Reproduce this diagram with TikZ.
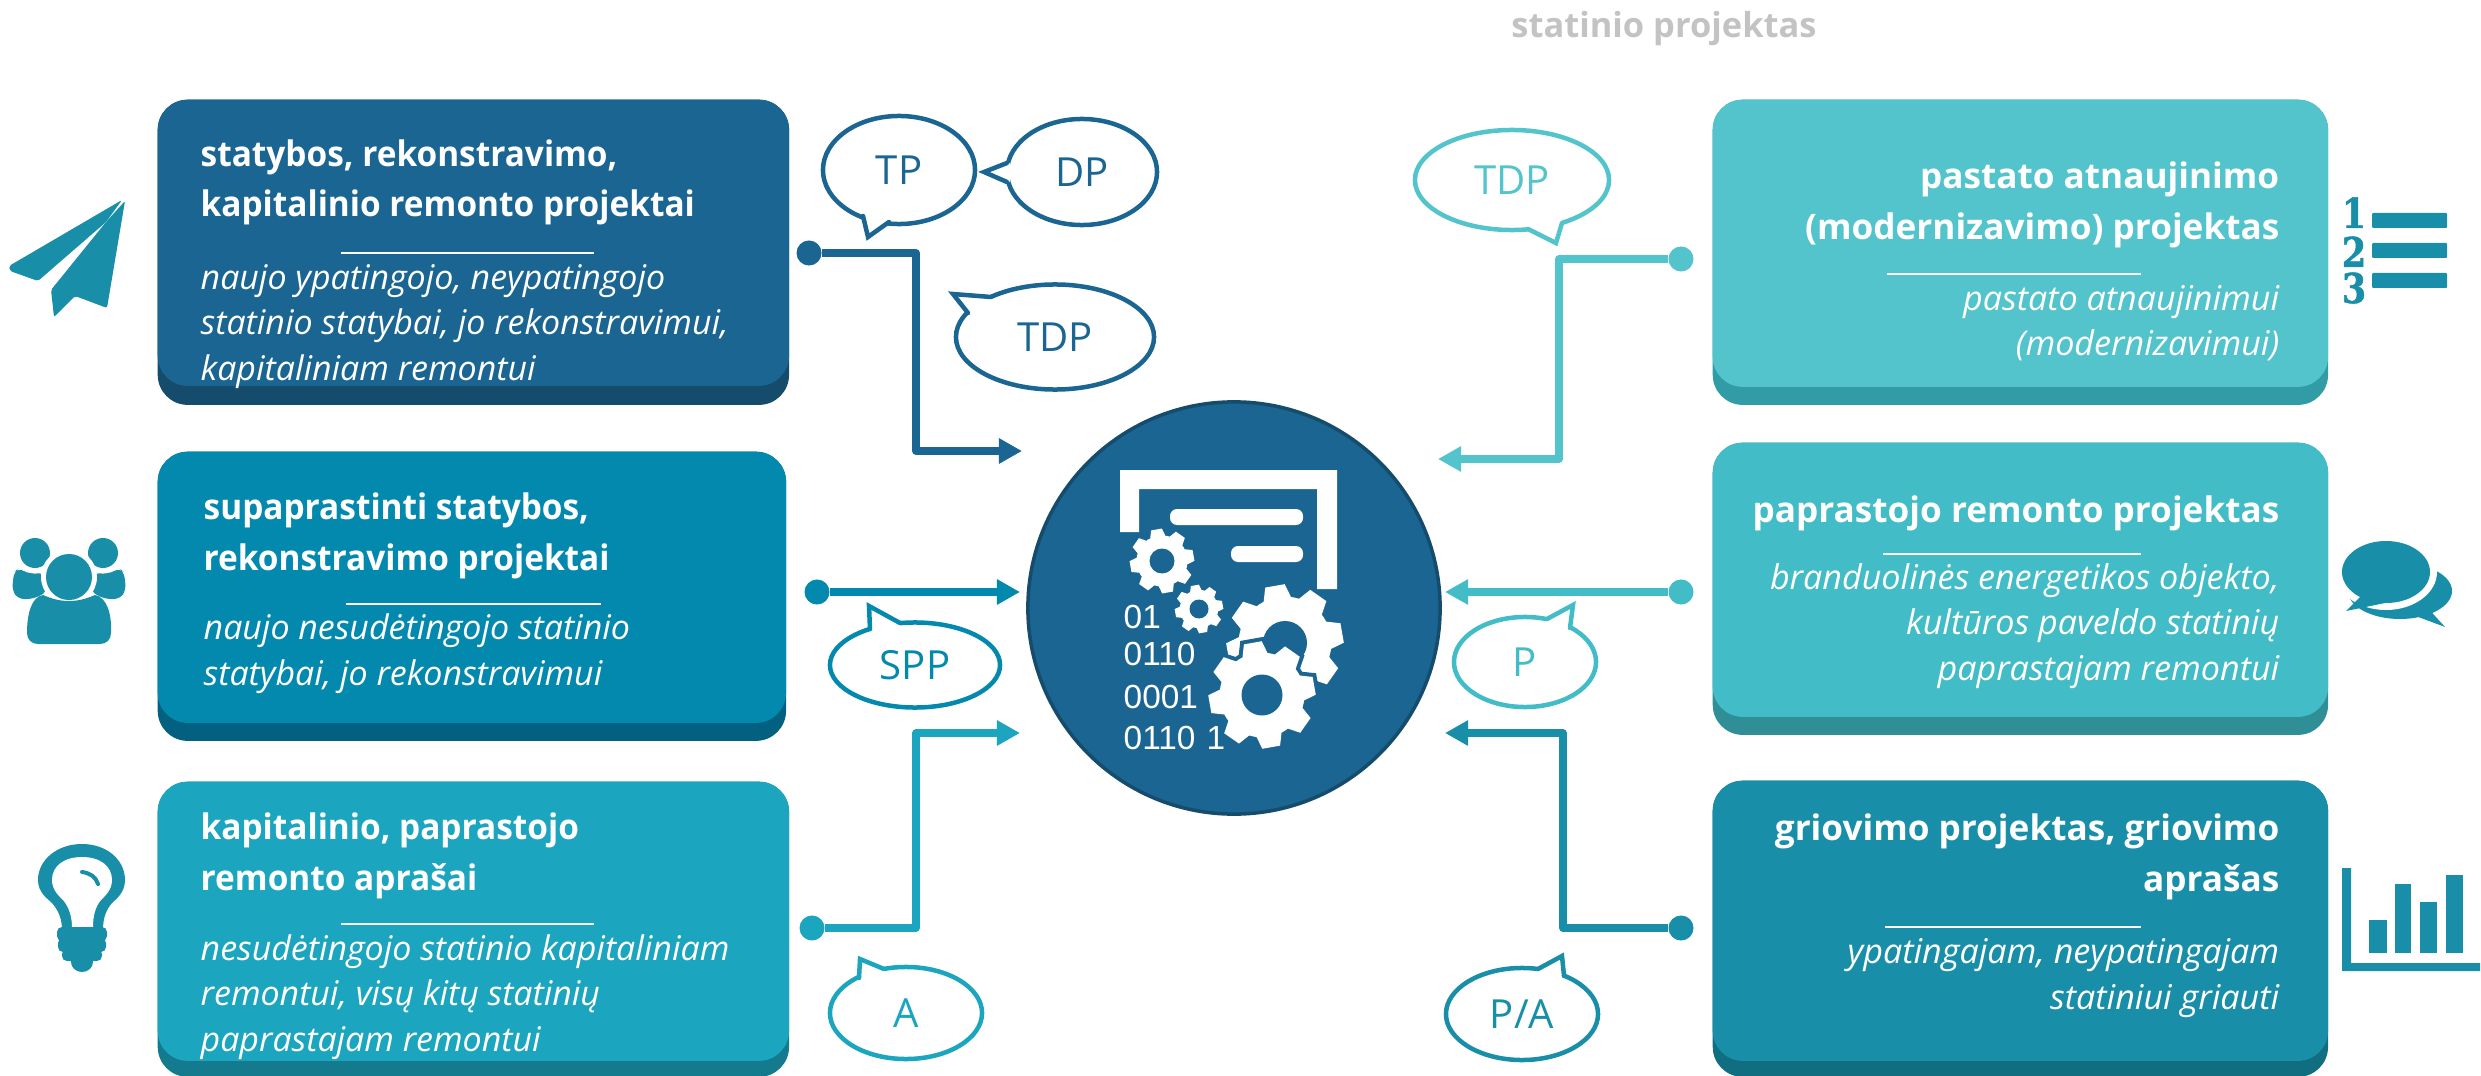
\documentclass[tikz,border=0pt]{standalone}
\usepackage{fontspec}
\setmainfont{Open Sans}
\newfontfamily\leftfont[FakeStretch=0.95]{Open Sans}
\newfontfamily\digitfont{Liberation Sans}
\newfontfamily\numfont[FakeStretch=0.85,BoldFeatures={FakeBold=1.2}]{DejaVu Serif}
\usetikzlibrary{positioning,calc,arrows.meta,shapes.geometric}
\definecolor{navy}{RGB}{26,101,145}
\definecolor{navyshade}{RGB}{21,75,107}
\definecolor{ocean}{RGB}{4,137,174}
\definecolor{oceanshade}{RGB}{3,96,128}
\definecolor{lagoon}{RGB}{28,165,191}
\definecolor{lagoonshade}{RGB}{20,122,141}
\definecolor{aqua}{RGB}{83,195,204}
\definecolor{aquashade}{RGB}{49,155,166}
\definecolor{mint}{RGB}{66,188,198}
\definecolor{mintshade}{RGB}{47,142,150}
\definecolor{teal2}{RGB}{24,142,168}
\definecolor{teal2shade}{RGB}{17,109,128}
\definecolor{titlegray}{RGB}{195,195,195}
\tikzset{
	panel/.style={rectangle,rounded corners=.3cm,inner sep=0pt,anchor=north west},
	headtext/.style={text=white,font=\bfseries\fontsize{10}{14.4}\selectfont,inner sep=0pt},
	subtext/.style={text=white,font=\itshape\fontsize{9.7}{12.8}\selectfont,inner sep=0pt},
	headleft/.style={headtext,font=\leftfont\bfseries\fontsize{10}{14.4}\selectfont},
	subleft/.style={subtext,font=\itshape\fontsize{9.65}{12.8}\selectfont},
	hrule/.style={white,line width=.15mm},
	bubble/.style={ellipse,draw=#1,text=#1,fill=white,line width=.45mm,inner sep=0pt,font=\fontsize{11.4}{13}\selectfont},
	dotend/.style={circle,fill=#1,minimum size=.25cm,inner sep=0pt},
	flow/.style={draw=#1,line width=.73mm,line join=round,-{Triangle[length=.23cm,width=.24cm,fill=#1]}},
	binary/.style={text=white,inner sep=0pt,anchor=base west,font=\digitfont\fontsize{9.5}{12}\selectfont},
	listnum/.style={text=teal2,inner sep=0pt,anchor=base,font=\numfont\bfseries\fontsize{11.7}{12}\selectfont},
}
\newcommand\bubbletail[4]{%
	\fill[white] #2 -- #3 -- #4 -- cycle;
	\draw[white,line width=.6mm] #2 -- #4;
	\draw[#1,line width=.45mm,line cap=round] #2 -- #3 -- #4;
}
\newcommand\gearicon[4][]{%
	\begin{scope}[shift={#2}]
		\foreach \a in {10,55,...,325}
		\fill[white,#1,rotate=\a] (.76*#3,-.24*#3) -- (#3,-.17*#3) -- (#3,.17*#3) -- (.76*#3,.24*#3) -- cycle;
		\fill[white,#1] (0,0) circle (.8*#3);
		\fill[navy] (0,0) circle (#4);
	\end{scope}
}
\begin{document}
\begin{tikzpicture}[x=.01cm,y=-.01cm]
	\useasboundingbox (0,0) rectangle (2481,1076);
	\node[text=titlegray,font=\bfseries\fontsize{9.8}{12}\selectfont,inner sep=0pt] (title) at (1664,29) {statinio projektas};

	% left panels
	\node[panel,fill=navyshade,minimum width=6.31cm,minimum height=3.05cm] (statShade) at (157,99) {};
	\node[panel,fill=navy,minimum width=6.31cm,minimum height=2.86cm] (stat) at (157,99) {};
	\node[panel,fill=oceanshade,minimum width=6.28cm,minimum height=2.89cm] (supShade) at (157,451) {};
	\node[panel,fill=ocean,minimum width=6.28cm,minimum height=2.71cm] (sup) at (157,451) {};
	\node[panel,fill=lagoonshade,minimum width=6.31cm,minimum height=2.95cm] (kapShade) at (157,781) {};
	\node[panel,fill=lagoon,minimum width=6.31cm,minimum height=2.79cm] (kap) at (157,781) {};

	% right panels
	\node[panel,fill=aquashade,minimum width=6.15cm,minimum height=3.05cm] (atnShade) at (1712,99) {};
	\node[panel,fill=aqua,minimum width=6.15cm,minimum height=2.87cm] (atn) at (1712,99) {};
	\node[panel,fill=mintshade,minimum width=6.15cm,minimum height=2.92cm] (parShade) at (1712,442) {};
	\node[panel,fill=mint,minimum width=6.15cm,minimum height=2.74cm] (par) at (1712,442) {};
	\node[panel,fill=teal2shade,minimum width=6.15cm,minimum height=2.96cm] (griShade) at (1712,780) {};
	\node[panel,fill=teal2,minimum width=6.15cm,minimum height=2.80cm] (gri) at (1712,780) {};

	% texts, placed on the baseline of the last line
	\node[headleft,align=left,anchor=base west] (statHead) at (200,217) {statybos, rekonstravimo,\\kapitalinio remonto projektai};
	\draw[hrule] (341,253) -- (594,253);
	\node[subleft,align=left,anchor=base west] (statSub) at (200,380) {naujo ypatingojo, neypatingojo\\statinio statybai, jo rekonstravimui,\\kapitaliniam remontui};
	\node[headleft,align=left,anchor=base west] (supHead) at (203,570) {supaprastinti statybos,\\rekonstravimo projektai};
	\draw[hrule] (346,604) -- (601,604);
	\node[subleft,align=left,anchor=base west] (supSub) at (203,685) {naujo nesudėtingojo statinio\\statybai, jo rekonstravimui};
	\node[headleft,align=left,anchor=base west] (kapHead) at (200,890) {kapitalinio, paprastojo\\remonto aprašai};
	\draw[hrule] (341,924) -- (594,924);
	\node[subleft,align=left,anchor=base west] (kapSub) at (200,1051) {nesudėtingojo statinio kapitaliniam\\remontui, visų kitų statinių\\paprastajam remontui};

	\node[headtext,align=right,anchor=base east] (atnHead) at (2280,239) {pastato atnaujinimo\\(modernizavimo) projektas};
	\draw[hrule] (1887,274) -- (2141,274);
	\node[subtext,align=right,anchor=base east] (atnSub) at (2280,356) {pastato atnaujinimui\\(modernizavimui)};
	\node[headtext,align=right,anchor=base east] (parHead) at (2280,522) {paprastojo remonto projektas};
	\draw[hrule] (1883,554) -- (2141,554);
	\node[subtext,align=right,anchor=base east] (parSub) at (2280,680) {branduolinės energetikos objekto,\\kultūros paveldo statinių\\paprastajam remontui};
	\node[headtext,align=right,anchor=base east] (griHead) at (2280,891) {griovimo projektas, griovimo\\aprašas};
	\draw[hrule] (1885,927) -- (2141,927);
	\node[subtext,align=right,anchor=base east] (griSub) at (2280,1009) {ypatingajam, neypatingajam\\statiniui griauti};

	% hub
	\node[circle,fill=navy,draw=navyshade,line width=.35mm,minimum size=4.12cm,inner sep=0pt] (hub) at (1234,608) {};
	\fill[white] (1120,470) -- (1337,470) -- (1337,589) -- (1317,589) -- (1317,489) -- (1139,489) -- (1139,532) -- (1120,532) -- cycle;
	\fill[white,rounded corners=.07cm] (1170,509) rectangle (1303,525);
	\fill[white,rounded corners=.07cm] (1231,546) rectangle (1303,562);
	\gearicon{(1162,561)}{32}{12.5}
	\gearicon{(1199,609)}{24}{9.5}
	\gearicon{(1285,643)}{58}{22}
	\gearicon[navy,draw=navy,line width=.8mm]{(1262,695)}{53}{20}
	\gearicon{(1262,695)}{53}{20.5}
	\node[binary] (bin1) at (1123,628) {01};
	\node[binary] (bin2) at (1123,665) {0110};
	\node[binary] (bin3) at (1123,708) {0001};
	\node[binary] (bin4) at (1123,749) {0110\,\,1};

	% connectors
	\node[dotend=navy] (dot1) at (809,253) {};
	\node[dotend=ocean] (dot2) at (817,592) {};
	\node[dotend=lagoon] (dot3) at (812,928) {};
	\node[dotend=aqua] (dot4) at (1681,259) {};
	\node[dotend=mint] (dot5) at (1681,592) {};
	\node[dotend=teal2] (dot6) at (1681,928) {};
	\coordinate (end1) at (1022,451);
	\coordinate (end2) at (1020,592);
	\coordinate (end3) at (1020,733);
	\coordinate (end4) at (1438,459);
	\coordinate (end5) at (1445,592);
	\coordinate (end6) at (1445,733);
	\coordinate (elbow1) at (916,253);
	\coordinate (elbow3) at (916,928);
	\coordinate (elbow4) at (1559,259);
	\coordinate (elbow6) at (1563,928);
	\draw[flow=navy] (dot1) -- (elbow1) |- (end1);
	\draw[flow=ocean] (dot2) -- (end2);
	\draw[flow=lagoon] (dot3) -- (elbow3) |- (end3);
	\draw[flow=aqua] (dot4) -- (elbow4) |- (end4);
	\draw[flow=mint] (dot5) -- (end5);
	\draw[flow=teal2] (dot6) -- (elbow6) |- (end6);

	% speech bubbles
	\node[bubble=navy,minimum width=1.52cm,minimum height=1.08cm] (tp) at (899,170) {TP};
	\bubbletail{navy}{(863,216)}{(868,237)}{(889,222)}
	\node[bubble=navy,minimum width=1.5cm,minimum height=1.06cm] (dp) at (1082,172) {DP};
	\bubbletail{navy}{(1007,163)}{(984,172)}{(1007,182)}
	\node[bubble=navy,minimum width=1.98cm,minimum height=1.05cm] (tdpL) at (1055,337) {TDP};
	\bubbletail{navy}{(968,313)}{(953,294)}{(991,297)}
	\node[bubble=ocean,minimum width=1.7cm,minimum height=.85cm] (spp) at (915,665) {SPP};
	\bubbletail{ocean}{(870,629)}{(869,606)}{(900,623)}
	\node[bubble=lagoon,minimum width=1.52cm,minimum height=.92cm] (apr) at (906,1013) {A};
	\bubbletail{lagoon}{(859,978)}{(860,959)}{(884,969)}
	\node[bubble=aqua,minimum width=1.94cm,minimum height=1cm] (tdpR) at (1512,180) {TDP};
	\bubbletail{aqua}{(1528,229)}{(1556,243)}{(1562,223)}
	\node[bubble=mint,minimum width=1.42cm,minimum height=.9cm] (pap) at (1525,662) {P};
	\bubbletail{mint}{(1547,619)}{(1573,605)}{(1570,628)}
	\node[bubble=teal2,minimum width=1.52cm,minimum height=.92cm] (pa) at (1522,1014) {P/A};
	\bubbletail{teal2}{(1538,969)}{(1562,956)}{(1564,976)}

	% plane
	\fill[teal2,rounded corners=.02cm] (122,200) -- (9,266) -- (10,271) -- (38,281) -- (106,222) -- cycle;
	\fill[teal2,rounded corners=.02cm] (125,201) -- (107,308) -- (75,296) -- (54,317) -- (51,290) -- (106,222) -- cycle;
	% people
	\fill[teal2] (35,553) circle (15);
	\fill[teal2] (103,553) circle (15);
	\fill[teal2,rounded corners=.06cm] (19,568) .. controls (27,573) and (35,574) .. (43,572) -- (47,592) -- (33,599) -- (18,599) -- (12,590) -- (14,572) -- cycle;
	\fill[teal2,rounded corners=.06cm] (119,568) .. controls (111,573) and (103,574) .. (95,572) -- (91,592) -- (105,599) -- (120,599) -- (126,590) -- (124,572) -- cycle;
	\fill[white] (69,577) circle (28);
	\fill[teal2] (69,577) circle (23);
	\fill[teal2] (43,595) .. controls (50,598) and (58,601) .. (69,601) .. controls (80,601) and (88,598) .. (95,595) .. controls (107,597) and (112,615) .. (111,633) .. controls (111,640) and (106,644) .. (100,644) -- (38,644) .. controls (32,644) and (27,640) .. (27,633) .. controls (27,615) and (31,597) .. (43,595) -- cycle;
	% bulb
	\fill[teal2] (82,844) .. controls (107,844) and (125,860) .. (125,880) .. controls (125,893) and (116,899) .. (112,903) .. controls (106,910) and (103,918) .. (103,930) -- (62,930) .. controls (62,918) and (58,910) .. (52,903) .. controls (48,899) and (38,893) .. (38,880) .. controls (38,860) and (57,844) .. (82,844) -- cycle;
	\fill[white] (82,857) .. controls (100,857) and (112,866) .. (112,880) .. controls (112,890) and (105,896) .. (101,900) .. controls (95,907) and (93,917) .. (93,927) -- (72,927) .. controls (72,917) and (69,907) .. (63,900) .. controls (59,896) and (52,890) .. (52,880) .. controls (52,866) and (64,857) .. (82,857) -- cycle;
	\draw[teal2,line width=.4mm,line cap=round] (82,872) .. controls (90,873) and (96,877) .. (98,884);
	\fill[teal2,rounded corners=.05cm] (57,927) rectangle (107,941);
	\fill[teal2,rounded corners=.05cm] (58,938) rectangle (106,952);
	\fill[teal2,rounded corners=.05cm] (62,949) rectangle (102,961);
	\fill[teal2] (82,962) ellipse [x radius=11,y radius=10];
	% numbered list
	\node[listnum] (num1) at (2354,228) {1};
	\node[listnum] (num2) at (2354,267) {2};
	\node[listnum] (num3) at (2354,303) {3};
	\foreach \y in {213,243,273}
	\fill[teal2,rounded corners=.01cm] (2372,\y) rectangle (2447,\y+15);
	% chat
	\fill[teal2] (2400,591) ellipse [x radius=52,y radius=28];
	\fill[teal2] (2425,605) -- (2445,627) -- (2405,612) -- cycle;
	\fill[white] (2386,572) ellipse [x radius=51,y radius=38];
	\fill[teal2] (2386,572) ellipse [x radius=44,y radius=31];
	\fill[teal2] (2362,595) -- (2346,611) -- (2385,603) -- cycle;
	% chart
	\fill[teal2] (2342,868) -- (2351,868) -- (2351,963) -- (2480,963) -- (2480,971) -- (2342,971) -- cycle;
	\fill[teal2] (2369,920) rectangle (2387,953);
	\fill[teal2] (2395,884) rectangle (2411,953);
	\fill[teal2] (2420,902) rectangle (2437,953);
	\fill[teal2] (2446,875) rectangle (2463,953);
\end{tikzpicture}
\end{document}
